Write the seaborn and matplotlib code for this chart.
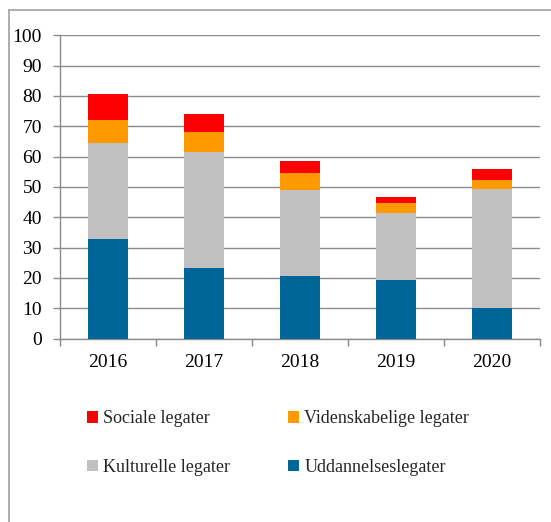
import numpy as np
import pandas as pd
import matplotlib
matplotlib.use("Agg")
import matplotlib.pyplot as plt
from matplotlib.patches import Patch
from matplotlib.lines import Line2D
import seaborn as sns

years = ["2016", "2017", "2018", "2019", "2020"]
uddannelse = [32.8, 23.2, 20.6, 19.3, 10.0]
kulturelle = [31.7, 38.3, 28.4, 22.1, 39.3]
videnskabelige = [7.6, 6.6, 5.6, 3.3, 3.0]
sociale = [8.5, 5.9, 3.9, 1.9, 3.6]

series = ["Uddannelseslegater", "Kulturelle legater",
          "Videnskabelige legater", "Sociale legater"]
colors = {"Uddannelseslegater": "#006699",
          "Kulturelle legater": "#c0c0c0",
          "Videnskabelige legater": "#ff9900",
          "Sociale legater": "#ff0000"}

sns.set_theme(style="white")
plt.rcParams["font.family"] = ["Liberation Serif", "DejaVu Serif"]

df = pd.DataFrame({"year": years,
                   series[0]: uddannelse,
                   series[1]: kulturelle,
                   series[2]: videnskabelige,
                   series[3]: sociale})
cum = df[series].cumsum(axis=1)

fig = plt.figure(figsize=(5.51, 5.22), dpi=100)
W, H = 551, 522
ax = fig.add_axes([60 / W, (H - 338.5) / H, 480 / W, (338.5 - 35.3) / H])

# stacked bars: draw cumulative totals from top layer down
for i, name in enumerate(reversed(series)):
    plot_df = pd.DataFrame({"year": years, "val": cum[name]})
    sns.barplot(data=plot_df, x="year", y="val", color=colors[name],
                width=0.41, saturation=1, ax=ax, zorder=3 + i,
                edgecolor="none", linewidth=0)

ax.set_xlim(-0.5, 4.5)
ax.set_ylim(0, 100)
ax.set_yticks(np.arange(0, 101, 10))
ax.set_xlabel("")
ax.set_ylabel("")
ax.grid(axis="y", color="#8c8c8c", linewidth=1.0, zorder=0)
ax.set_axisbelow(True)

for s in ["top", "right"]:
    ax.spines[s].set_visible(False)
for s in ["left", "bottom"]:
    ax.spines[s].set_color("#8c8c8c")
    ax.spines[s].set_linewidth(1.0)

ax.tick_params(axis="y", length=5, width=1, color="#8c8c8c", pad=8,
               labelsize=14, labelcolor="black", left=True)
ax.tick_params(axis="x", length=0, pad=11, labelsize=14, labelcolor="black")
ax.set_xticks(np.arange(-0.5, 4.6, 1.0), minor=True)
ax.tick_params(axis="x", which="minor", length=5, width=1,
               color="#8c8c8c", bottom=True)

labels = ["Sociale legater", "Kulturelle legater",
          "Videnskabelige legater", "Uddannelseslegater"]
handles = [Patch(facecolor=colors[n], edgecolor="none") for n in labels]
fig.legend(handles, labels, ncol=2, frameon=False, fontsize=13,
           loc="upper left", bbox_to_anchor=(80 / W, (H - 403) / H),
           handlelength=0.6, handleheight=0.6, handletextpad=0.3,
           labelspacing=1.75, columnspacing=3.2, borderaxespad=0)

# outer frame (left and top edges)
fig.add_artist(Line2D([9 / W, 9 / W], [0, (H - 10) / H],
                      color="#a0a0a0", linewidth=1.2))
fig.add_artist(Line2D([9 / W, 1], [(H - 10) / H, (H - 10) / H],
                      color="#a0a0a0", linewidth=1.2))

fig.savefig("out.png", dpi=100)
